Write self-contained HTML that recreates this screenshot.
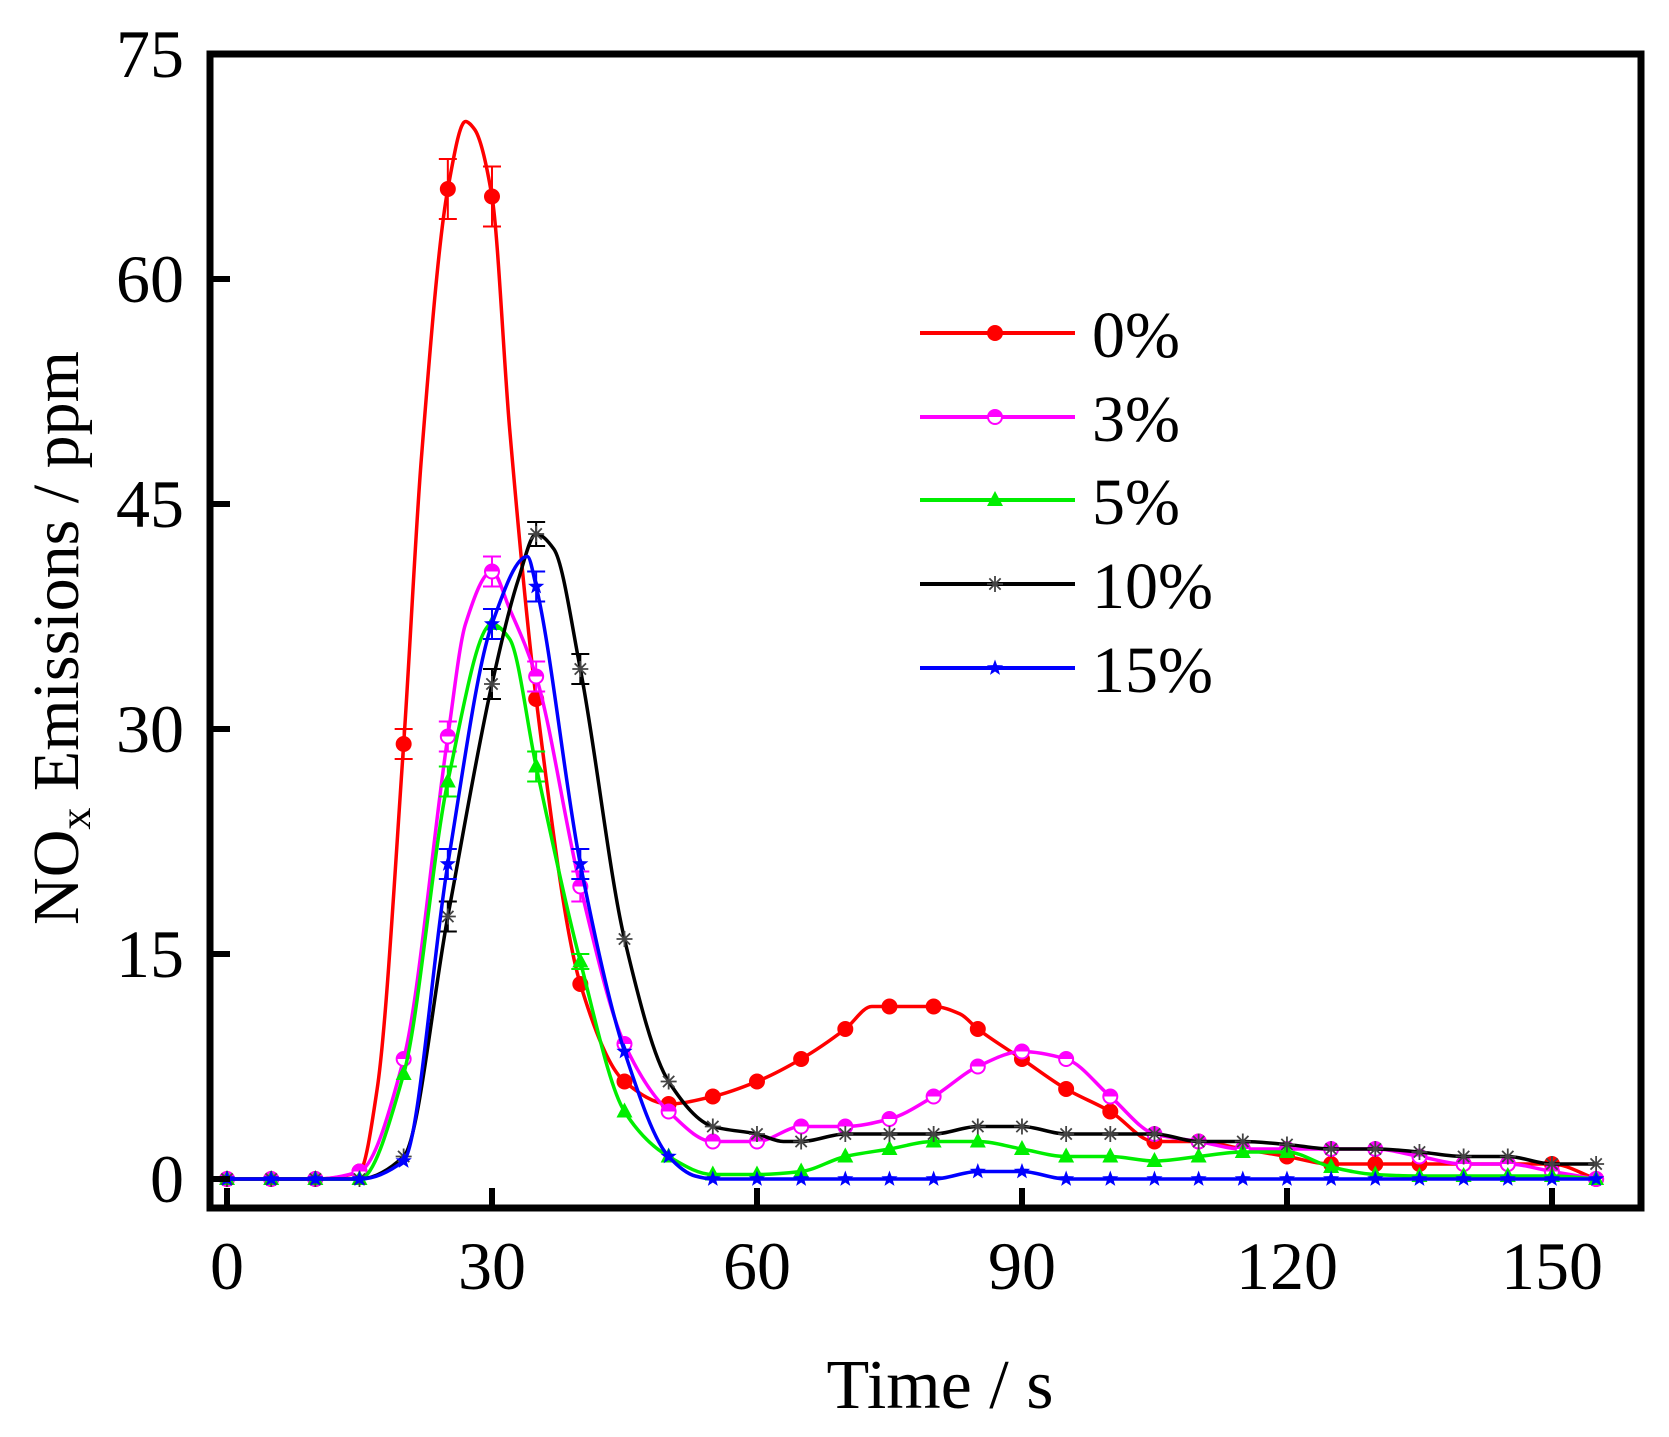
<!DOCTYPE html>
<html><head><meta charset="utf-8"><style>
html,body{margin:0;padding:0;background:#fff}
svg{display:block}
text{font-family:"Liberation Serif",serif;fill:#000}
</style></head><body>
<svg id="s" width="1669" height="1437" viewBox="0 0 1669 1437" xmlns="http://www.w3.org/2000/svg">
<rect x="0" y="0" width="1669" height="1437" fill="#fff"/>
<g id="data"></g>
<rect x="210" y="54" width="1431" height="1154" fill="none" stroke="#000" stroke-width="7"/>
<g stroke="#000" stroke-width="6">
<line x1="210" y1="1179" x2="230" y2="1179"/><line x1="210" y1="954" x2="230" y2="954"/><line x1="210" y1="729" x2="230" y2="729"/><line x1="210" y1="504" x2="230" y2="504"/><line x1="210" y1="279" x2="230" y2="279"/>
<line x1="227" y1="1208" x2="227" y2="1188"/><line x1="492" y1="1208" x2="492" y2="1188"/><line x1="757" y1="1208" x2="757" y2="1188"/><line x1="1022" y1="1208" x2="1022" y2="1188"/><line x1="1287" y1="1208" x2="1287" y2="1188"/><line x1="1552" y1="1208" x2="1552" y2="1188"/>
</g>
<g font-size="68" text-anchor="end">
<text x="184" y="1202">0</text><text x="184" y="977">15</text><text x="184" y="752">30</text><text x="184" y="527">45</text><text x="184" y="302">60</text><text x="184" y="77">75</text>
</g>
<g font-size="68" text-anchor="middle">
<text x="227" y="1289">0</text><text x="492" y="1289">30</text><text x="757" y="1289">60</text><text x="1022" y="1289">90</text><text x="1287" y="1289">120</text><text x="1552" y="1289">150</text>
</g>
<text x="940" y="1408" font-size="70" text-anchor="middle">Time / s</text>
<text transform="translate(78,638) rotate(-90)" font-size="66" text-anchor="middle">NO<tspan font-size="44" dy="12">x</tspan><tspan dy="-12"> Emissions / ppm</tspan></text>
<g stroke-width="4">
<line x1="920" y1="333" x2="1075" y2="333" stroke="#ff0000"/>
<line x1="920" y1="417" x2="1075" y2="417" stroke="#ff00ff"/>
<line x1="920" y1="500" x2="1075" y2="500" stroke="#00ee00"/>
<line x1="920" y1="584" x2="1075" y2="584" stroke="#000"/>
<line x1="920" y1="668" x2="1075" y2="668" stroke="#0000ff"/>
</g>
<g id="leg"></g>
<g font-size="66">
<text x="1092" y="357">0%</text><text x="1092" y="441">3%</text><text x="1092" y="524">5%</text><text x="1092" y="608">10%</text><text x="1092" y="692">15%</text>
</g>
</svg>
<script>
var NS="http://www.w3.org/2000/svg";
function X(t){return 227+8.833*t}function Y(v){return 1179-15*v}
var S=[
{c:"#ff0000",m:"circle",p:[[0,0],[5,0],[10,0],[15,0.5],[17,6],[20,29],[22,48],[25,66],[27,70.5],[28,70],[30,65.5],[32,50],[35,32],[40,13],[45,6.5],[50,5],[55,5.5],[60,6.5],[65,8],[70,10],[73,11.5],[75,11.5],[80,11.5],[83,11],[85,10],[90,8],[95,6],[100,4.5],[105,2.5],[110,2.5],[115,2],[120,1.5],[125,1],[130,1],[135,1],[140,1],[145,1],[150,1],[155,0]],e:{20:1,25:2,30:2}},
{c:"#ff00ff",m:"half",p:[[0,0],[5,0],[10,0],[15,0.5],[20,8],[25,29.5],[27,37],[30,40.5],[32,38],[35,33.5],[40,19.5],[45,9],[50,4.5],[55,2.5],[60,2.5],[65,3.5],[70,3.5],[75,4],[80,5.5],[85,7.5],[90,8.5],[95,8],[100,5.5],[105,3],[110,2.5],[115,2],[120,2],[125,2],[130,2],[135,1.5],[140,1],[145,1],[150,0.5],[155,0]],e:{25:1,30:1,35:1,40:1}},
{c:"#00ee00",m:"tri",p:[[0,0],[5,0],[10,0],[15,0],[20,7],[25,26.5],[30,37],[32,36],[35,27.5],[40,14.5],[45,4.5],[50,1.5],[55,0.3],[60,0.3],[65,0.5],[70,1.5],[75,2],[80,2.5],[85,2.5],[90,2],[95,1.5],[100,1.5],[105,1.2],[110,1.5],[115,1.8],[120,1.8],[125,0.8],[130,0.3],[135,0.2],[140,0.2],[145,0.2],[150,0.2],[155,0]],e:{25:1,30:1,35:1,40:0.5}},
{c:"#000000",m:"ast",p:[[0,0],[5,0],[10,0],[15,0],[20,1.5],[25,17.5],[30,33],[33,40],[35,43],[37,42],[40,34],[45,16],[50,6.5],[55,3.5],[60,3],[63,2.5],[65,2.5],[70,3],[75,3],[80,3],[85,3.5],[90,3.5],[95,3],[100,3],[105,3],[110,2.5],[115,2.5],[120,2.3],[125,2],[130,2],[135,1.8],[140,1.5],[145,1.5],[150,1],[155,1]],e:{25:1,30:1,35:0.8,40:1}},
{c:"#0000ff",m:"star",p:[[0,0],[5,0],[10,0],[15,0],[20,1.2],[25,21],[30,37],[34,41.5],[35,39.5],[40,21],[45,8.5],[50,1.5],[53,0.2],[55,0],[60,0],[65,0],[70,0],[75,0],[80,0],[85,0.5],[90,0.5],[95,0],[100,0],[105,0],[110,0],[115,0],[120,0],[125,0],[130,0],[135,0],[140,0],[145,0],[150,0],[155,0]],e:{25:1,30:1,35:1,40:1}}
];
function el(n,a,par){var e=document.createElementNS(NS,n);for(var k in a)e.setAttribute(k,a[k]);par.appendChild(e);return e}
function marker(m,x,y,c,g){
 if(m=="circle")el("circle",{cx:x,cy:y,r:8,fill:c},g);
 else if(m=="half"){el("circle",{cx:x,cy:y,r:7,fill:"#fff",stroke:c,"stroke-width":2},g);el("path",{d:"M"+(x-7)+","+y+"A7,7 0 0 1 "+(x+7)+","+y+"Z",fill:c},g)}
 else if(m=="tri")el("path",{d:"M"+x+","+(y-9)+"L"+(x+8)+","+(y+6)+"L"+(x-8)+","+(y+6)+"Z",fill:c},g);
 else if(m=="ast"){var d="";for(var i=0;i<4;i++){var a=i*Math.PI/4;d+="M"+(x-8*Math.cos(a))+","+(y-8*Math.sin(a))+"L"+(x+8*Math.cos(a))+","+(y+8*Math.sin(a))}el("path",{d:d,stroke:"#444","stroke-width":1.8,fill:"none"},g)}
 else {var d="";for(var i=0;i<10;i++){var r=i%2?3.5:8.5,a=-Math.PI/2+i*Math.PI/5;d+=(i?"L":"M")+(x+r*Math.cos(a))+","+(y+r*Math.sin(a))}el("path",{d:d+"Z",fill:c},g)}
}
function mono(P){
 var n=P.length,dl=[],m=[];
 for(var i=0;i<n-1;i++)dl.push((P[i+1][1]-P[i][1])/(P[i+1][0]-P[i][0]));
 m[0]=dl[0];m[n-1]=dl[n-2];
 for(var i=1;i<n-1;i++){if(dl[i-1]*dl[i]<=0)m[i]=0;else{var h0=P[i][0]-P[i-1][0],h1=P[i+1][0]-P[i][0];var w1=2*h1+h0,w2=h1+2*h0;m[i]=(w1+w2)/(w1/dl[i-1]+w2/dl[i])}}
 var d="M"+P[0][0]+","+P[0][1];
 for(var i=0;i<n-1;i++){var h=(P[i+1][0]-P[i][0])/3;
  d+="C"+(P[i][0]+h)+","+(P[i][1]+m[i]*h)+" "+(P[i+1][0]-h)+","+(P[i+1][1]-m[i+1]*h)+" "+P[i+1][0]+","+P[i+1][1]}
 return d}
var g=document.getElementById("data");
S.forEach(function(s){
 var P=s.p.map(function(q){return[X(q[0]),Y(q[1])]});
 el("path",{d:mono(P),stroke:s.c,"stroke-width":3.5,fill:"none"},g);
 s.p.forEach(function(q){
  if(q[0]%5)return;var x=X(q[0]),y=Y(q[1]);
  if(s.e[q[0]]){var e=s.e[q[0]]*15;el("path",{d:"M"+x+","+(y-e)+"V"+(y+e)+"M"+(x-9)+","+(y-e)+"H"+(x+9)+"M"+(x-9)+","+(y+e)+"H"+(x+9),stroke:s.c,"stroke-width":2,fill:"none"},g)}
  marker(s.m,x,y,s.c,g)});
});
var L=document.getElementById("leg");
[333,417,500,584,668].forEach(function(y,i){marker(S[i].m,995,y,S[i].c,L)});
</script>
</body></html>
